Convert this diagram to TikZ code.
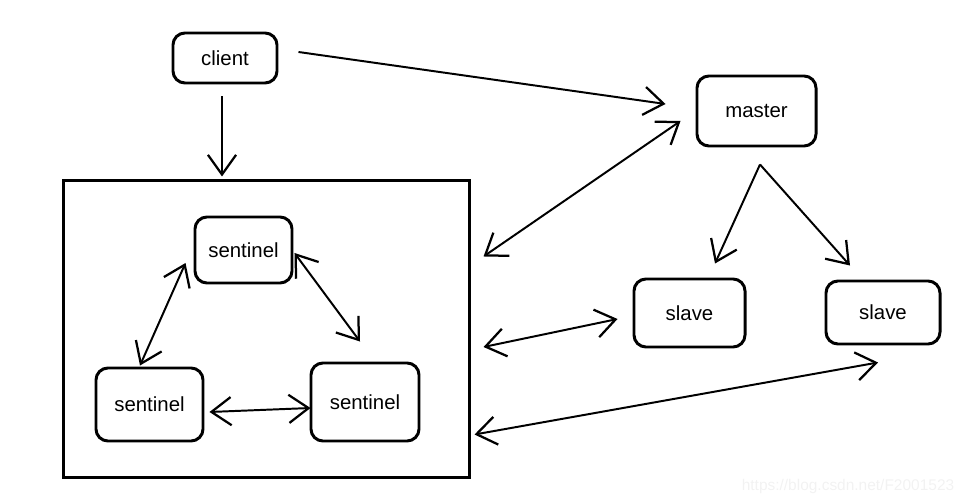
\documentclass[tikz,border=0pt]{standalone}
\usepackage{fontspec}
\setmainfont{Liberation Sans}
\usetikzlibrary{arrows.meta,calc}

\begin{document}
\begin{tikzpicture}[x=0.025cm,y=-0.025cm,
    box/.style={draw,line width=2.1pt,rounded corners=0.3cm,font=\fontsize{14.5}{17}\selectfont},
    arr/.style={line width=1.4pt,-{Straight Barb[length=14pt,width=20pt,line width=1.6pt]}},
    darr/.style={line width=1.4pt,{Straight Barb[length=14pt,width=20pt,line width=1.6pt]}-{Straight Barb[length=14pt,width=20pt,line width=1.6pt]}}]
    \useasboundingbox (0,0) rectangle (966,504);
    \node[box,minimum width=2.6cm,minimum height=1.25cm] (client) at (225,58) {client};
    \node[box,minimum width=2.975cm,minimum height=1.75cm] (master) at (756.5,111) {master};
    \node[draw,line width=2.1pt,minimum width=10.125cm,minimum height=7.4cm] (cluster) at (266.5,329) {};
    \node[box,minimum width=2.425cm,minimum height=1.65cm] (stop) at (243.5,250) {sentinel};
    \node[box,minimum width=2.675cm,minimum height=1.825cm] (sleft) at (149.5,404.5) {sentinel};
    \node[box,minimum width=2.7cm,minimum height=1.95cm] (sright) at (365,402) {sentinel};
    \node[box,minimum width=2.775cm,minimum height=1.7cm] (slaveA) at (689.5,313) {slave};
    \node[box,minimum width=2.85cm,minimum height=1.575cm] (slaveB) at (883,312.5) {slave};
    \node[text=black!5,font=\fontsize{11}{13}\selectfont] (mark) at (848,486) {https://blog.csdn.net/F2001523};

    \draw[arr] ([shift={(20,-6)}]client.east) -- ([shift={(-30,-7)}]master.west);
    \draw[arr] ([shift={(-3,12)}]client.south) -- ([shift={(-44.5,-3)}]cluster.north);
    \draw[darr] ([shift={(13,77)}]cluster.north east) -- ([shift={(-15,10)}]master.west);
    \draw[arr] ([shift={(3.5,17)}]master.south) -- ([shift={(25.5,-14)}]slaveA.north);
    \draw[arr] ([shift={(3.5,17)}]master.south) -- ([shift={(-33,-14)}]slaveB.north);
    \draw[darr] ([shift={(13,18)}]cluster.east) -- ([shift={(-15,6)}]slaveA.west);
    \draw[darr] ([shift={(4,-44)}]cluster.south east) -- ([shift={(-5,17)}]slaveB.south);
    \draw[darr] ([shift={(-8,13)}]stop.west) -- ([shift={(-9.5,-1)}]sleft.north);
    \draw[darr] ([shift={(1,3)}]stop.east) -- ([shift={(-5,-20)}]sright.north);
    \draw[darr] ([shift={(5,7.5)}]sleft.east) -- ([shift={(1,6)}]sright.west);
\end{tikzpicture}
\end{document}
